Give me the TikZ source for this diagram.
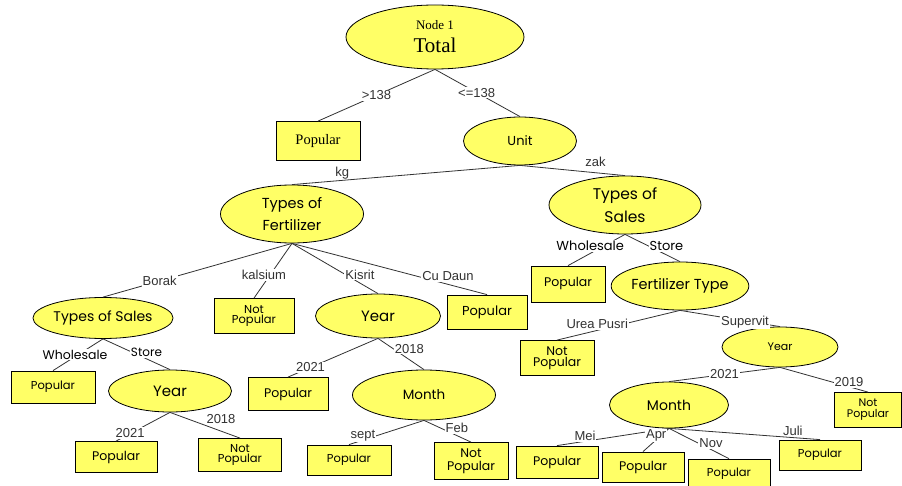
\documentclass[tikz,border=0pt]{standalone}
\usepackage{fontspec}
\setmainfont{Liberation Serif}
\newfontfamily\gf{Poppins}
\newfontfamily\af{Liberation Sans}
\usetikzlibrary{shapes.geometric}
\definecolor{yel}{RGB}{255,255,102}
\definecolor{edgec}{RGB}{50,50,50}
\tikzset{
  x=1pt, y=-1pt,
  ell/.style={ellipse, draw=black, line width=0.8pt, fill=yel, inner sep=0pt, align=center, font=\gf},
  bx/.style={rectangle, draw=black, line width=0.8pt, fill=yel, inner sep=0pt, align=center, font=\gf},
  con/.style={draw=edgec, line width=0.8pt},
  lab/.style={fill=white, inner sep=1pt, font=\af\fontsize{13}{13}\selectfont, text=edgec},
  glab/.style={fill=white, inner sep=1pt, font=\gf\fontsize{12}{12}\selectfont, text=black},
}
\begin{document}
\begin{tikzpicture}
\useasboundingbox[fill=white] (0,0) rectangle (902,486);
% ellipses
\node[ell, minimum width=178pt, minimum height=64pt, font=\rmfamily\fontsize{13}{23}\selectfont] (root) at (435,37) {{\fontsize{13}{13}\selectfont Node 1}\\{\fontsize{21}{21}\selectfont Total}};
\node[ell, minimum width=113pt, minimum height=48pt, font=\gf\fontsize{13}{14}\selectfont] (unit) at (520,141) {Unit};
\node[ell, minimum width=143pt, minimum height=58pt, font=\gf\fontsize{14.5}{22}\selectfont] (tf) at (292,214) {Types of\\Fertilizer};
\node[ell, minimum width=152pt, minimum height=58pt, font=\gf\fontsize{15.5}{23}\selectfont] (ts) at (625,205) {Types of\\Sales};
\node[ell, minimum width=122pt, minimum height=48pt, font=\gf\fontsize{14.5}{15}\selectfont] (ft) at (680,286) {Fertilizer Type};
\node[ell, minimum width=116pt, minimum height=40pt, font=\gf\fontsize{11}{12}\selectfont] (yrR) at (780,347) {Year};
\node[ell, minimum width=119pt, minimum height=46pt, font=\gf\fontsize{14}{14}\selectfont] (moR) at (669,405) {Month};
\node[ell, minimum width=127pt, minimum height=41pt, font=\gf\fontsize{14}{14}\selectfont] (tsl) at (103,318) {Types of Sales};
\node[ell, minimum width=125pt, minimum height=44pt, font=\gf\fontsize{15}{16}\selectfont] (yr1) at (378,316) {Year};
\node[ell, minimum width=123pt, minimum height=42pt, font=\gf\fontsize{15}{16}\selectfont] (yrL) at (170,391) {Year};
\node[ell, minimum width=143pt, minimum height=50pt, font=\gf\fontsize{13.5}{14}\selectfont] (mo1) at (424,395) {Month};
% boxes
\node[bx, minimum width=84pt, minimum height=39pt, font=\rmfamily\fontsize{14.5}{15}\selectfont] (pop1) at (318,141) {Popular};
\node[bx, minimum width=74pt, minimum height=36pt, font=\gf\fontsize{12.5}{13}\selectfont] (popR) at (568,284) {Popular};
\node[bx, minimum width=74pt, minimum height=35pt, font=\gf\fontsize{12.5}{11}\selectfont] (npR) at (557,358) {Not\\Popular};
\node[bx, minimum width=67pt, minimum height=35pt, font=\gf\fontsize{11}{11}\selectfont] (npRR) at (868,410) {Not\\Popular};
\node[bx, minimum width=82pt, minimum height=32pt, font=\gf\fontsize{12.5}{13}\selectfont] (pmei) at (557,462) {Popular};
\node[bx, minimum width=82pt, minimum height=30pt, font=\gf\fontsize{12.5}{13}\selectfont] (papr) at (643,467) {Popular};
\node[bx, minimum width=82pt, minimum height=30pt, font=\gf\fontsize{11.5}{12}\selectfont] (pnov) at (729,474) {Popular};
\node[bx, minimum width=82pt, minimum height=30pt, font=\gf\fontsize{11.5}{12}\selectfont] (pjuli) at (820,455) {Popular};
\node[bx, minimum width=80pt, minimum height=35pt, font=\gf\fontsize{11.5}{10}\selectfont] (np1) at (254,316) {Not\\Popular};
\node[bx, minimum width=80pt, minimum height=34pt, font=\gf\fontsize{13}{14}\selectfont] (pop2) at (487,312) {Popular};
\node[bx, minimum width=84pt, minimum height=32pt, font=\gf\fontsize{11.5}{12}\selectfont] (popL) at (53,387) {Popular};
\node[bx, minimum width=82pt, minimum height=31pt, font=\gf\fontsize{12.5}{13}\selectfont] (pL) at (116,457) {Popular};
\node[bx, minimum width=83pt, minimum height=33pt, font=\gf\fontsize{11.5}{10}\selectfont] (npL) at (240,455) {Not\\Popular};
\node[bx, minimum width=80pt, minimum height=33pt, font=\gf\fontsize{12.5}{13}\selectfont] (pM) at (288,394) {Popular};
\node[bx, minimum width=84pt, minimum height=30pt, font=\gf\fontsize{11.5}{12}\selectfont] (pS) at (349,460) {Popular};
\node[bx, minimum width=74pt, minimum height=37pt, font=\gf\fontsize{12.5}{13}\selectfont] (npF) at (471,461) {Not\\Popular};
% connectors
\draw[con] (root.south) -- node[lab, pos=0.5] {>138} (pop1.north);
\draw[con] (root.south) -- node[lab, pos=0.49] {<=138} (unit.north);
\draw[con] (unit.south) -- node[lab, pos=0.78, above=0pt, fill=none] {kg} (tf.north);
\draw[con] (unit.south) -- node[lab, pos=0.72, above=5pt, fill=none] {zak} (ts.north);
\draw[con] (tf.south) -- node[lab, pos=0.7] {Borak} (tsl.north);
\draw[con] (tf.south) -- node[lab, pos=0.58, xshift=-6pt] {kalsium} (np1.north);
\draw[con] (tf.south) -- node[lab, pos=0.72, xshift=6pt, yshift=5pt] {Kisrit} (yr1.north);
\draw[con] (tf.south) -- node[lab, pos=0.8, yshift=8pt] {Cu Daun} (pop2.north);
\draw[con] (tsl.south) -- node[glab, pos=0.5, xshift=-3pt, font=\gf\fontsize{12.5}{13}\selectfont] {Wholesale} (popL.north);
\draw[con] (tsl.south) -- node[glab, pos=0.5, xshift=10pt, yshift=2pt, font=\gf\fontsize{12}{13}\selectfont] {Store} (yrL.north);
\draw[con] (yrL.south) -- node[lab, pos=0.72, xshift=-1pt] {2021} (pL.north);
\draw[con] (yrL.south) -- node[lab, pos=0.5, xshift=16pt, yshift=6pt] {2018} (npL.north);
\draw[con] (yr1.south) -- node[lab, pos=0.75] {2021} (pM.north);
\draw[con] (yr1.south) -- node[lab, pos=0.4, xshift=13pt, yshift=2pt] {2018} (mo1.north);
\draw[con] (mo1.south) -- node[lab, pos=0.72, xshift=-7pt, yshift=2pt] {sept} (pS.north);
\draw[con] (mo1.south) -- node[lab, pos=0.55, xshift=7pt, yshift=4pt] {Feb} (npF.north);
\draw[con] (ts.south) -- node[glab, pos=0.4, xshift=-12pt, yshift=1pt, font=\gf\fontsize{13}{14}\selectfont] {Wholesale} (popR.north);
\draw[con] (ts.south) -- node[glab, pos=0.5, xshift=14pt, yshift=2pt, font=\gf\fontsize{13}{14}\selectfont] {Store} (ft.north);
\draw[con] (ft.south) -- node[lab, pos=0.6, xshift=-9pt, yshift=4pt] {Urea Pusri} (npR.north);
\draw[con] (ft.south) -- node[lab, pos=0.6, xshift=5pt, yshift=-2pt] {Supervit} (yrR.north);
\draw[con] (yrR.south) -- node[lab, pos=0.5] {2021} (moR.north);
\draw[con] (yrR.south) -- node[lab, pos=0.75, xshift=3pt, yshift=4pt] {2019} (npRR.north);
\draw[con] (moR.south) -- node[lab, pos=0.75, above=-1pt] {Mei} (pmei.north);
\draw[con] (moR.south) -- node[lab, pos=0.3, xshift=-5pt] {Apr} (papr.north);
\draw[con] (moR.south) -- node[lab, pos=0.6, xshift=6pt, yshift=3pt] {Nov} (pnov.north);
\draw[con] (moR.south) -- node[lab, pos=0.82, above=1pt, fill=none] {Juli} (pjuli.north);
\end{tikzpicture}
\end{document}
